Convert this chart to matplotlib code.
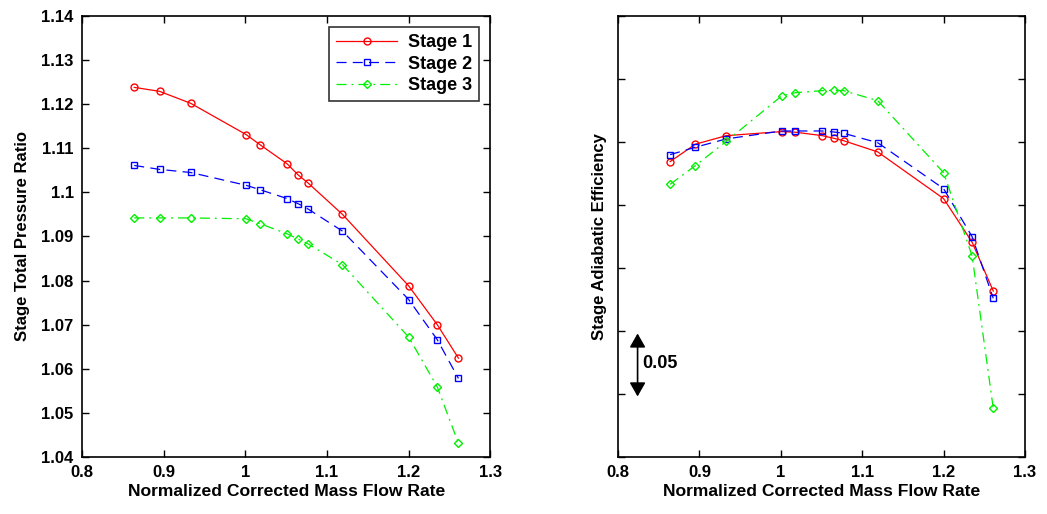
import numpy as np
import matplotlib
matplotlib.use('Agg')
import matplotlib.pyplot as plt

plt.rcParams['font.family'] = ['Liberation Sans', 'DejaVu Sans']
plt.rcParams['font.weight'] = 'bold'

# Data
mass_flow = [0.864, 0.895, 0.933, 1.001, 1.018, 1.051, 1.065, 1.077, 1.119, 1.200, 1.235, 1.261]

pr_stage1 = [1.1238, 1.1229, 1.1202, 1.1131, 1.1108, 1.1065, 1.1039, 1.1021, 1.0950, 1.0788, 1.0700, 1.0624]
pr_stage2 = [1.1061, 1.1052, 1.1045, 1.1016, 1.1006, 1.0986, 1.0974, 1.0962, 1.0912, 1.0757, 1.0666, 1.0578]
pr_stage3 = [1.0942, 1.0942, 1.0942, 1.0940, 1.0929, 1.0906, 1.0894, 1.0883, 1.0836, 1.0672, 1.0559, 1.0431]

eff_stage1 = [0.7844, 0.7982, 0.8050, 0.8082, 0.8077, 0.8050, 0.8029, 0.8010, 0.7921, 0.7550, 0.7204, 0.6817]
eff_stage2 = [0.7899, 0.7958, 0.8024, 0.8087, 0.8087, 0.8087, 0.8079, 0.8069, 0.7994, 0.7629, 0.7248, 0.6759]
eff_stage3 = [0.7664, 0.7812, 0.8005, 0.8365, 0.8391, 0.8407, 0.8410, 0.8407, 0.8328, 0.7756, 0.7095, 0.5886]

labels = ['Stage 1', 'Stage 2', 'Stage 3']
colors = ['#ff0000', '#0000ff', '#00f000']
styles = ['-', (0, (8, 5)), (0, (8, 4, 1.5, 4))]
markers = ['o', 's', 'D']
msizes = [5, 4.5, 4]

fig = plt.figure(figsize=(10.47, 5.14), dpi=100)
ax1 = fig.add_axes([0.0783, 0.111, 0.390, 0.858])
ax2 = fig.add_axes([0.5903, 0.111, 0.3887, 0.858])

def style_axes(ax):
    ax.set_xlim(0.8, 1.3)
    ax.set_xticks([0.8, 0.9, 1.0, 1.1, 1.2, 1.3])
    ax.set_xticklabels(['0.8', '0.9', '1', '1.1', '1.2', '1.3'])
    ax.tick_params(direction='in', top=True, right=True, length=5, width=1, labelsize=12, pad=6)
    for s in ax.spines.values():
        s.set_linewidth(1.2)
    ax.set_xlabel('Normalized Corrected Mass Flow Rate', fontsize=12.6, fontweight='bold', labelpad=3)

for ys, lab, c, ls, m, ms in zip([pr_stage1, pr_stage2, pr_stage3], labels, colors, styles, markers, msizes):
    ax1.plot(mass_flow, ys, linestyle=ls, color=c, marker=m, markersize=ms,
             markerfacecolor='none', markeredgecolor=c, linewidth=0.9, label=lab)

style_axes(ax1)
ax1.set_ylim(1.04, 1.14)
ax1.set_yticks(np.round(np.arange(1.04, 1.1401, 0.01), 2))
ax1.set_yticklabels(['1.04', '1.05', '1.06', '1.07', '1.08', '1.09', '1.1', '1.11', '1.12', '1.13', '1.14'])
ax1.set_ylabel('Stage Total Pressure Ratio', fontsize=12, fontweight='bold', labelpad=8)
leg = ax1.legend(loc='upper right', fontsize=13, frameon=True, fancybox=False,
                 edgecolor='black', handlelength=3.4, borderaxespad=0.6,
                 labelspacing=0.25, handletextpad=0.6)
leg.get_frame().set_linewidth(1.2)

for ys, lab, c, ls, m, ms in zip([eff_stage1, eff_stage2, eff_stage3], labels, colors, styles, markers, msizes):
    ax2.plot(mass_flow, ys, linestyle=ls, color=c, marker=m, markersize=ms,
             markerfacecolor='none', markeredgecolor=c, linewidth=0.9)

style_axes(ax2)
ax2.set_ylim(0.55, 0.90)
ax2.set_yticks(np.arange(0.55, 0.9001, 0.05))
ax2.set_yticklabels([])
ax2.set_ylabel('Stage Adiabatic Efficiency', fontsize=12, fontweight='bold', labelpad=2)

# 0.05 scale arrow
ax2.annotate('', xy=(0.824, 0.598), xytext=(0.824, 0.648),
             arrowprops=dict(arrowstyle='<|-|>,head_length=0.7,head_width=0.4',
                             color='black', lw=1.2, mutation_scale=12, shrinkA=0, shrinkB=0))
ax2.text(0.83, 0.624, '0.05', fontsize=13, fontweight='bold', va='center', ha='left')

fig.savefig('out.png', dpi=100)
